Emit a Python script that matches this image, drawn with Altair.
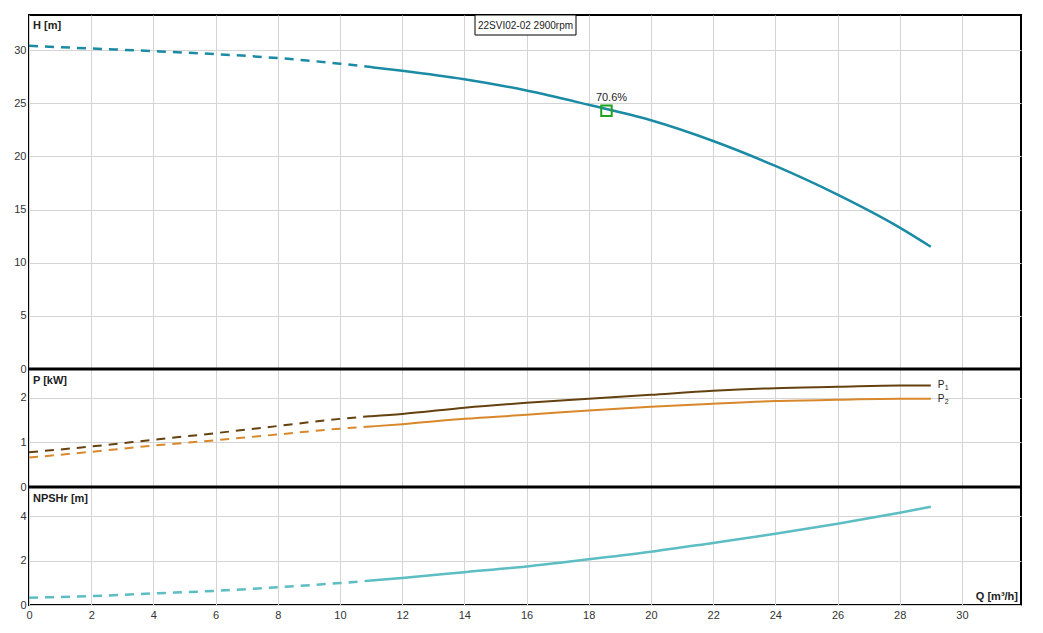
import altair as alt
import pandas as pd

# ---- data ----
q = [0, 2, 4, 6, 8, 10, 11, 12, 14, 16, 18, 20, 22, 24, 26, 28, 29]
head = [30.4, 30.15, 29.9, 29.62, 29.25, 28.72, 28.4, 28.05, 27.25, 26.2, 24.85, 23.4, 21.45, 19.1, 16.4, 13.3, 11.5]
p1 = [0.78, 0.91, 1.06, 1.21, 1.37, 1.53, 1.59, 1.64, 1.78, 1.89, 1.98, 2.07, 2.16, 2.22, 2.25, 2.28, 2.28]
p2 = [0.66, 0.79, 0.93, 1.05, 1.18, 1.31, 1.36, 1.41, 1.53, 1.62, 1.72, 1.80, 1.87, 1.93, 1.96, 1.98, 1.98]
npsh = [0.33, 0.40, 0.52, 0.64, 0.80, 0.99, 1.10, 1.22, 1.48, 1.74, 2.06, 2.40, 2.80, 3.21, 3.66, 4.16, 4.43]
split_q = 11

bep_q = [18.57]
bep_h = [24.3]
bep_label = ["70.6%"]

x_ticks = list(range(0, 31, 2))
h_ticks = [0, 5, 10, 15, 20, 25, 30]
p_ticks = [0, 1, 2]
n_ticks = [0, 2, 4]
title_text = "22SVI02-02 2900rpm"

X_DOMAIN = [0, 31.9]
W = 992
FONT = "Liberation Sans"
GRID = "#d4d4d4"
TXT = "#222222"


def seg_df(vals):
    rows = []
    for qq, v in zip(q, vals):
        if qq <= split_q:
            rows.append({"q": qq, "v": v, "seg": "dash"})
        if qq >= split_q:
            rows.append({"q": qq, "v": v, "seg": "solid"})
    return pd.DataFrame(rows)


def xenc(show):
    if show:
        ax = alt.Axis(values=x_ticks, grid=True, gridColor=GRID, labels=True,
                      ticks=False, domain=False, title=None, labelFlush=False,
                      labelPadding=4, format="d")
    else:
        ax = alt.Axis(values=x_ticks, grid=True, gridColor=GRID, labels=False,
                      ticks=False, domain=False, title=None,
                      minExtent=0, maxExtent=0, offset=0)
    return alt.X("q:Q", scale=alt.Scale(domain=X_DOMAIN, nice=False, zero=False), axis=ax)


def yenc(domain, ticks):
    return alt.Y(
        "v:Q",
        scale=alt.Scale(domain=domain, nice=False, zero=True),
        axis=alt.Axis(values=ticks, grid=True, gridColor=GRID, ticks=False,
                      domain=False, title=None, labelPadding=3, format="d"),
    )


def curve(vals, color, width, domain, ticks, show_x):
    df = seg_df(vals)
    base = alt.Chart(df).encode(x=xenc(show_x), y=yenc(domain, ticks))
    dashed = base.transform_filter(alt.datum.seg == "dash").mark_line(
        color=color, strokeWidth=width, strokeDash=[9, 7], interpolate="monotone")
    solid = base.transform_filter(alt.datum.seg == "solid").mark_line(
        color=color, strokeWidth=width, interpolate="monotone")
    return [dashed, solid]


def label(txt, x, y, align="left", baseline="top", bold=True, size=11):
    return alt.Chart(pd.DataFrame({"t": [txt]})).mark_text(
        align=align, baseline=baseline, font=FONT, fontSize=size,
        fontWeight="bold" if bold else "normal", fill=TXT
    ).encode(x=alt.value(x), y=alt.value(y), text="t:N")


def top_rule():
    return alt.Chart(pd.DataFrame({"t": [0]})).mark_rule(
        color="black", strokeWidth=3
    ).encode(x=alt.value(0), x2=alt.value(W), y=alt.value(0))


H_DOM = [0, 33.3]
P_DOM = [0, 2.65]
N_DOM = [0, 5.32]

# ---- top panel: head ----
h_layers = curve(head, "#1b8ba5", 2.5, H_DOM, h_ticks, False)
bep_df = pd.DataFrame({"q": bep_q, "v": bep_h, "t": bep_label})
bep_pt = alt.Chart(bep_df).mark_point(
    shape="square", size=110, filled=False, color="#1fa31f", strokeWidth=2, opacity=1
).encode(x=xenc(False), y=yenc(H_DOM, h_ticks))
bep_txt = alt.Chart(bep_df).mark_text(
    align="center", baseline="bottom", dx=5, dy=-8, font=FONT, fontSize=11, fill=TXT
).encode(x=xenc(False), y=yenc(H_DOM, h_ticks), text="t:N")
title_box = alt.Chart(pd.DataFrame({"t": [title_text]})).mark_rect(
    fill="white", stroke="black", strokeWidth=1
).encode(x=alt.value(446), x2=alt.value(547), y=alt.value(0), y2=alt.value(20))
title_txt = label(title_text, 496.5, 10.5, align="center", baseline="middle", bold=False, size=10)

top = alt.layer(
    *h_layers, bep_pt, bep_txt, title_box, title_txt, label("H [m]", 4, 5)
).properties(width=W, height=354)

# ---- middle panel: power ----
p1_layers = curve(p1, "#65410f", 2, P_DOM, p_ticks, False)
p2_layers = curve(p2, "#d8882a", 2, P_DOM, p_ticks, False)
pl_df = pd.DataFrame({"q": [q[-1], q[-1]], "v": [p1[-1], p2[-1]],
                      "t": ["P", "P"], "s": ["1", "2"]})
p_lab = alt.Chart(pl_df).mark_text(
    align="left", baseline="middle", dx=7, font=FONT, fontSize=10, fill=TXT
).encode(x=xenc(False), y=yenc(P_DOM, p_ticks), text="t:N")
p_sub = alt.Chart(pl_df).mark_text(
    align="left", baseline="middle", dx=14, dy=3, font=FONT, fontSize=7, fill=TXT
).encode(x=xenc(False), y=yenc(P_DOM, p_ticks), text="s:N")
mid = alt.layer(
    *p1_layers, *p2_layers, p_lab, p_sub, label("P [kW]", 4, 6), top_rule()
).properties(width=W, height=118)

# ---- bottom panel: NPSHr ----
n_layers = curve(npsh, "#5cbdc3", 2.5, N_DOM, n_ticks, True)
bot = alt.layer(
    *n_layers, label("NPSHr [m]", 4, 6),
    label("Q [m³/h]", W - 3, 115, align="right", baseline="bottom"), top_rule()
).properties(width=W, height=118)

chart = alt.vconcat(top, mid, bot, spacing=0, bounds="flush").properties(
    padding={"left": 4, "top": 5, "right": 5, "bottom": 5}
).configure_view(
    stroke="black", strokeWidth=2
).configure_axis(
    labelFont=FONT, labelFontSize=11, labelColor="#333"
)

chart.save("out.html", embed_options={"renderer": "svg", "actions": False})
